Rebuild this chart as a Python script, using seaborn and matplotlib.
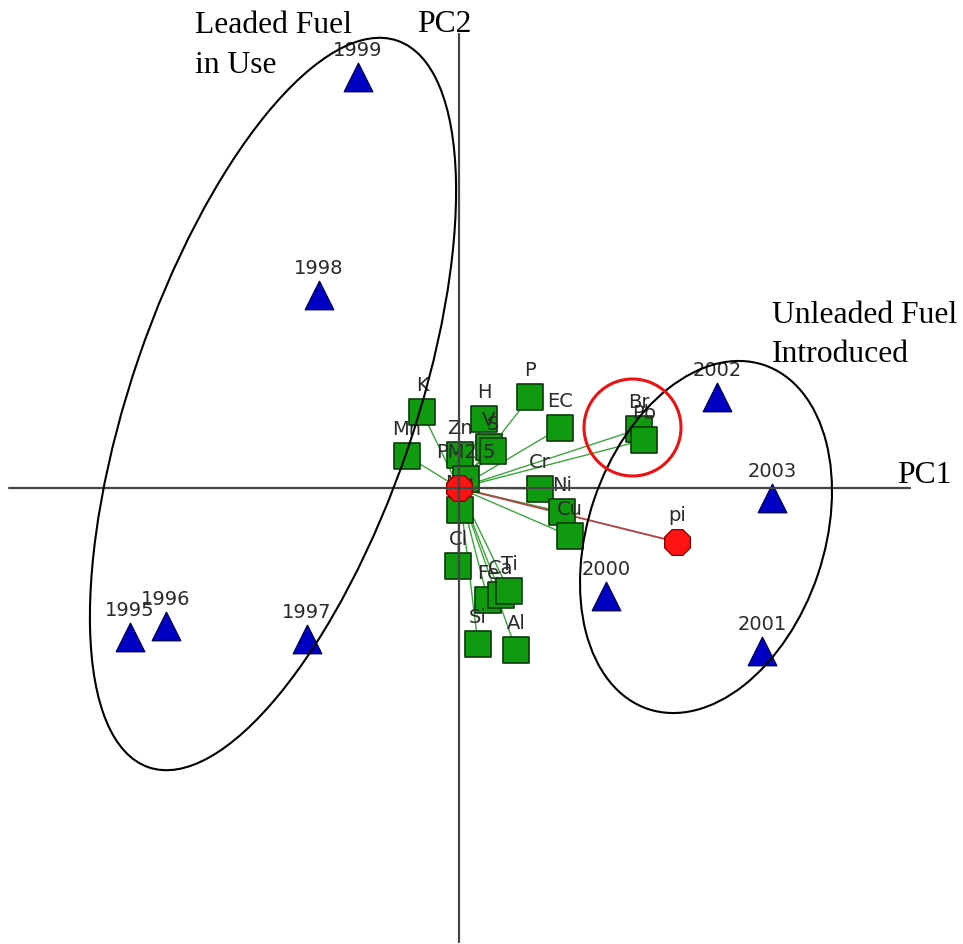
import matplotlib
matplotlib.use("Agg")
import matplotlib.pyplot as plt
from matplotlib.patches import Ellipse, Circle
import pandas as pd
import seaborn as sns

# Sample scores (years) on the first two principal components
years = ["1995", "1996", "1997", "1998", "1999", "2000", "2001", "2002", "2003"]
year_pc1 = [-3.29, -2.93, -1.52, -1.40, -1.01, 1.47, 3.03, 2.58, 3.13]
year_pc2 = [-1.49, -1.38, -1.51, 1.93, 4.11, -1.08, -1.63, 0.91, -0.10]

# Variable loadings (species and bulk measures)
variables = ["K", "Mn", "H", "P", "EC", "V", "S", "Zn", "PM2.5", "Mg",
             "Cr", "Ni", "Cu", "Cl", "Fe", "Ca", "Ti", "Si", "Al", "Br", "Pb"]
var_pc1 = [-0.37, -0.52, 0.25, 0.71, 1.01, 0.30, 0.34, 0.01, 0.07, 0.01,
           0.81, 1.03, 1.11, -0.01, 0.29, 0.42, 0.50, 0.19, 0.57, 1.80, 1.85]
var_pc2 = [0.76, 0.32, 0.69, 0.91, 0.60, 0.41, 0.37, 0.33, 0.09, -0.22,
           -0.01, -0.24, -0.48, -0.78, -1.12, -1.07, -1.03, -1.56, -1.62, 0.59, 0.48]

# Supplementary variable and centre of the biplot
pi_name = ["pi"]
pi_pc1 = [2.18]
pi_pc2 = [-0.54]
centre = (0.0, 0.0)

# Group ellipses: centre x, centre y, width, height, angle
leaded_ellipse = [-1.86, 0.84, 7.68, 2.84, 71.1]
unleaded_ellipse = [2.47, -0.49, 3.63, 2.36, 71.3]
# Highlight ring around Br / Pb
ring = [1.735, 0.605, 0.485]

sns.set_style("white")
plt.rcParams["font.family"] = ["DejaVu Sans"]

fig = plt.figure(figsize=(9.63, 9.45), dpi=100)
ax = fig.add_axes([0, 0, 1, 1])
ax.set_xlim(-4.59, 5.04)
ax.set_ylim(-4.56, 4.89)
ax.axis("off")

years_df = pd.DataFrame({"PC1": year_pc1, "PC2": year_pc2, "label": years})
vars_df = pd.DataFrame({"PC1": var_pc1, "PC2": var_pc2, "label": variables})
pi_df = pd.DataFrame({"PC1": pi_pc1, "PC2": pi_pc2, "label": pi_name})

# Loading vectors from the centre
for x, y in zip(var_pc1, var_pc2):
    ax.plot([centre[0], x], [centre[1], y], color="#3aa63a", lw=1.0, zorder=1)
ax.plot([centre[0], pi_pc1[0]], [centre[1], pi_pc2[0]], color="#b04848", lw=1.4, zorder=1)

sns.scatterplot(data=vars_df, x="PC1", y="PC2", marker="s", s=370,
                color="#109a10", edgecolor="#0b3b0b", linewidth=1.2,
                legend=False, ax=ax, zorder=2)
sns.scatterplot(data=years_df, x="PC1", y="PC2", marker="^", s=420,
                color="#0000c4", edgecolor="#00005a", linewidth=1.0,
                legend=False, ax=ax, zorder=2)

label_style = dict(textcoords="offset points", xytext=(0, 20), ha="center",
                   va="center", fontsize=14, color="#2a2a2a", zorder=3)
for df in (vars_df, years_df, pi_df):
    for _, r in df.iterrows():
        ax.annotate(r["label"], (r["PC1"], r["PC2"]), **label_style)

sns.scatterplot(data=pi_df, x="PC1", y="PC2", marker="8", s=400,
                color="#ff1414", edgecolor="#8a0000", linewidth=1.0,
                legend=False, ax=ax, zorder=4)
sns.scatterplot(x=[centre[0]], y=[centre[1]], marker="8", s=400,
                color="#ff1414", edgecolor="#8a0000", linewidth=1.0,
                legend=False, ax=ax, zorder=4)

# Principal component axes
ax.plot([-4.50, 4.51], [0, 0], color="#444444", lw=1.6, zorder=5)
ax.plot([0, 0], [-4.54, 4.54], color="#444444", lw=1.6, zorder=5)

serif = dict(family=["Liberation Serif", "DejaVu Serif"], fontsize=22.8,
             color="black", va="baseline", zorder=6)
ax.text(-0.42, 4.57, "PC2", ha="left", **serif)
ax.text(4.38, 0.06, "PC1", ha="left", **serif)
ax.text(-2.64, 4.56, "Leaded Fuel", ha="left", **serif)
ax.text(-2.64, 4.16, "in Use", ha="left", **serif)
ax.text(3.13, 1.66, "Unleaded Fuel", ha="left", **serif)
ax.text(3.13, 1.27, "Introduced", ha="left", **serif)

for cx, cy, w, h, ang in (leaded_ellipse, unleaded_ellipse):
    ax.add_patch(Ellipse((cx, cy), w, h, angle=ang, fill=False,
                         edgecolor="black", lw=1.5, zorder=6))
ax.add_patch(Circle((ring[0], ring[1]), ring[2], fill=False,
                    edgecolor="#ee1111", lw=2.2, zorder=6))

fig.savefig("out.png", dpi=100)
